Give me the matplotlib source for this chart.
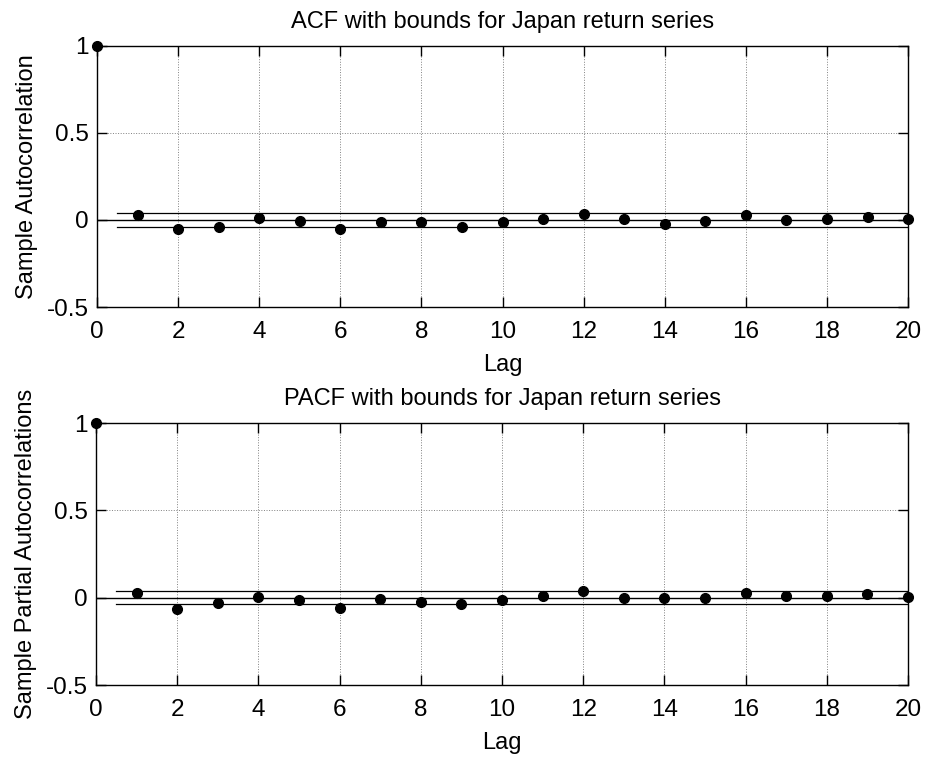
import numpy as np
import matplotlib.pyplot as plt

plt.rcParams['font.family'] = ['Liberation Sans', 'DejaVu Sans']

# data
lags = np.arange(0, 21)
acf = [1.0, 0.030, -0.051, -0.041, 0.013, -0.006, -0.052, -0.011, -0.014, -0.039, -0.013,
       0.006, 0.035, 0.003, -0.022, -0.008, 0.030, -0.002, 0.003, 0.018, 0.007]
pacf = [1.0, 0.027, -0.065, -0.030, 0.002, -0.012, -0.058, -0.010, -0.025, -0.035, -0.013,
        0.007, 0.040, -0.004, -0.002, -0.003, 0.029, 0.008, 0.008, 0.019, 0.006]
bound = 0.038

titles = ["ACF with bounds for Japan return series", "PACF with bounds for Japan return series"]
ylabels = ["Sample Autocorrelation", "Sample Partial Autocorrelations"]
xticks = np.arange(0, 21, 2)
yticks = [-0.5, 0, 0.5, 1]
yticklabels = ["-0.5", "0", "0.5", "1"]

fig = plt.figure(figsize=(9.25, 7.57), dpi=100)
ax1 = fig.add_axes([0.1049, 0.5944, 0.8768, 0.3453])
ax2 = fig.add_axes([0.1038, 0.0951, 0.8779, 0.3461])

for ax, vals, title, ylab in zip([ax1, ax2], [acf, pacf], titles, ylabels):
    ax.plot([0, 20], [0, 0], color='black', lw=1.0)
    ax.plot([0.5, 20], [bound, bound], color='black', lw=0.9)
    ax.plot([0.5, 20], [-bound, -bound], color='black', lw=0.9)
    ax.plot(lags, vals, 'o', color='black', ms=7, clip_on=False, zorder=5)
    ax.set_xlim(0, 20)
    ax.set_ylim(-0.5, 1)
    ax.set_xticks(xticks)
    ax.set_yticks(yticks)
    ax.set_yticklabels(yticklabels)
    ax.grid(True, linestyle=':', color='gray', lw=0.7)
    ax.tick_params(direction='in', top=True, right=True, length=7, width=1,
                   labelsize=17.5)
    ax.tick_params(axis='x', pad=10)
    ax.tick_params(axis='y', pad=6)
    for s in ax.spines.values():
        s.set_linewidth(1.0)
    ax.set_title(title, fontsize=17, pad=13)
    ax.set_xlabel("Lag", fontsize=17, labelpad=8)
    ax.set_ylabel(ylab, fontsize=17, labelpad=6)

fig.savefig("out.png", dpi=100)
